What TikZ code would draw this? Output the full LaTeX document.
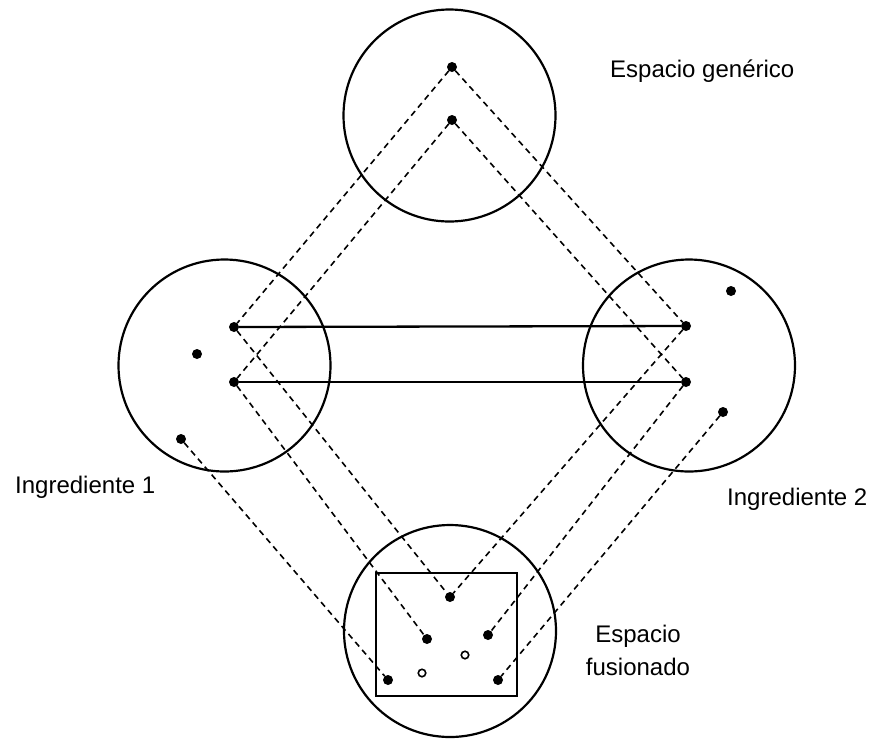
\documentclass[tikz,border=0pt]{standalone}
\usepackage{fontspec}
\setmainfont{Liberation Sans}
\begin{document}
\begin{tikzpicture}[x=1pt,y=-1pt,
  space/.style={circle,draw,line width=2.2pt,inner sep=0pt,outer sep=0pt,minimum size=212pt},
  dot/.style={circle,fill,inner sep=0pt,outer sep=0pt,minimum size=10pt},
  hollow/.style={circle,draw,line width=1.6pt,fill=white,inner sep=0pt,outer sep=0pt,minimum size=7.5pt},
  link/.style={dashed,line width=1.6pt,dash pattern=on 6pt off 4.5pt},
  match/.style={line width=2.3pt},
  lbl/.style={inner sep=0pt,font=\fontsize{24}{33}\selectfont}]
\useasboundingbox (0,0) rectangle (872,740);

% the four mental spaces
\node[space] (gen) at (449.5,115.5) {};
\node[space] (in1) at (224.5,365.5) {};
\node[space] (in2) at (689,365.5) {};
\node[space] (bl)  at (450,631) {};
\draw[line width=2.2pt] (376,573) rectangle (517,696);

% elements of each space
\node[dot] (g1) at (452,67) {};
\node[dot] (g2) at (452,120) {};

\node[dot] (a1) at (234,327) {};
\node[dot] (a2) at (234,382) {};
\node[dot] (a3) at (197,354) {};
\node[dot] (a4) at (181,439) {};

\node[dot] (b1) at (686,326) {};
\node[dot] (b2) at (686,382) {};
\node[dot] (b3) at (731,291) {};
\node[dot] (b4) at (723,412) {};

\node[dot] (f1) at (450,597) {};
\node[dot] (f2) at (427,639) {};
\node[dot] (f3) at (488,635) {};
\node[dot] (f4) at (388,680) {};
\node[dot] (f5) at (498,680) {};
\node[hollow] (h1) at (465,655) {};
\node[hollow] (h2) at (422,673) {};

% cross-space mapping
\draw[match] (a1) -- (b1);
\draw[match] (a2) -- (b2);

% projections to the generic space
\draw[link] (g1) -- (a1);
\draw[link] (g2) -- (a2);
\draw[link] (g1) -- (b1);
\draw[link] (g2) -- (b2);

% projections to the blend
\draw[link] (a1) -- (f1);
\draw[link] (a2) -- (f2);
\draw[link] (a4) -- (f4);
\draw[link] (b1) -- (f1);
\draw[link] (b2) -- (f3);
\draw[link] (b4) -- (f5);

% labels
\node[lbl,anchor=base west] (tgen) at (610,77) {Espacio genérico};
\node[lbl,anchor=base west] (tin1) at (15,493) {Ingrediente 1};
\node[lbl,anchor=base west] (tin2) at (727,505) {Ingrediente 2};
\node[lbl,anchor=base] (tbl1) at (638,642) {Espacio};
\node[lbl,anchor=base] (tbl2) at (638,675) {fusionado};
\end{tikzpicture}
\end{document}
